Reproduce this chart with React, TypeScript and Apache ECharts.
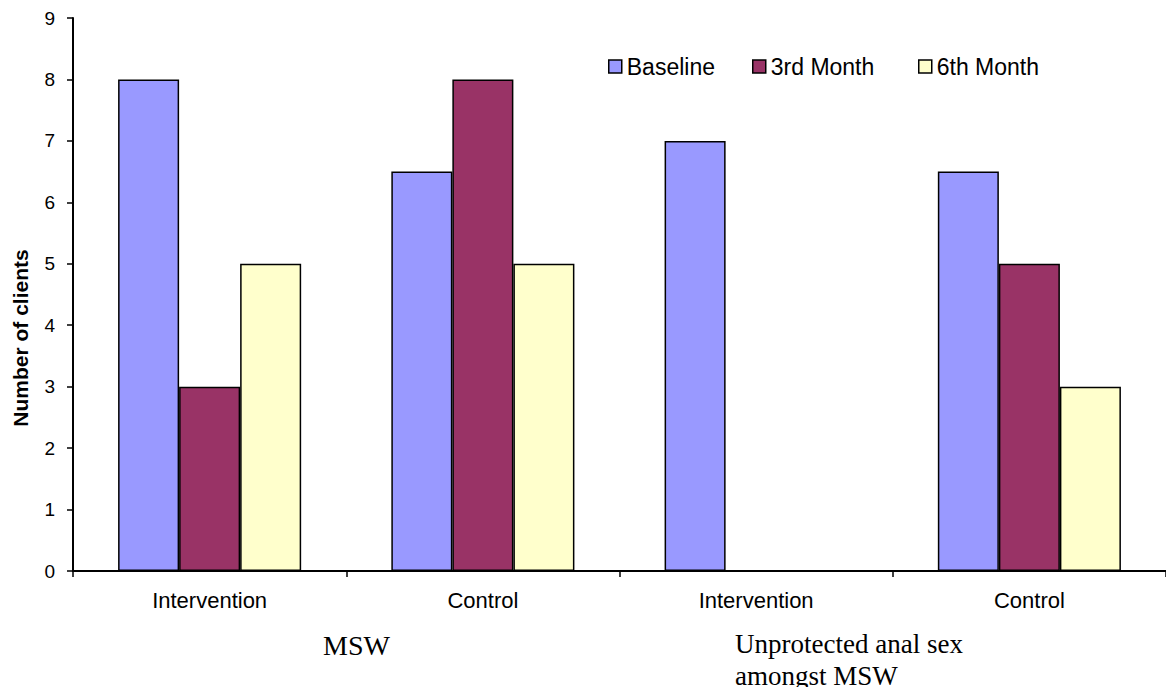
import React, { useEffect, useRef } from "react";
import * as echarts from "echarts";

const categories = ["Intervention", "Control", "Intervention", "Control"];
const seriesNames = ["Baseline", "3rd Month", "6th Month"];
const baseline = [8, 6.5, 7, 6.5];
const month3 = [3, 8, 0, 5];
const month6 = [5, 5, 0, 3];
const colors = ["#9999FF", "#993366", "#FFFFCC"];
const yTicks = [0, 9, 1];
const yAxisTitle = "Number of clients";
const groupLabels = ["MSW", "Unprotected anal sex\namongst MSW"];

export default function App() {
  const ref = useRef<HTMLDivElement>(null);
  useEffect(() => {
    if (!ref.current) return;
    const chart = echarts.init(ref.current, undefined, { renderer: "svg" });
    const values = [baseline, month3, month6];
    const legendLeft = [608, 752, 918];
    chart.setOption({
      animation: false,
      grid: { left: 73, top: 18, width: 1096, bottom: 116, containLabel: false },
      legend: seriesNames.map((n, i) => ({
        data: [n],
        left: legendLeft[i],
        top: 55,
        padding: 0,
        itemWidth: 13,
        itemHeight: 13,
        icon: "rect",
        itemStyle: { borderColor: "#000", borderWidth: 1.5 },
        textStyle: { fontFamily: "Liberation Sans, Arial", fontSize: 23, color: "#000" },
      })),
      xAxis: {
        type: "category",
        data: categories,
        axisLine: { lineStyle: { color: "#000", width: 2 } },
        axisTick: { show: true, length: 6, lineStyle: { color: "#000", width: 1.5 } },
        axisLabel: { fontFamily: "Liberation Sans, Arial", fontSize: 22, color: "#000", margin: 18 },
      },
      yAxis: {
        type: "value",
        min: yTicks[0],
        max: yTicks[1],
        interval: yTicks[2],
        axisLine: { show: true, lineStyle: { color: "#000", width: 2 } },
        axisTick: { show: true, length: 6, lineStyle: { color: "#000", width: 1.5 } },
        splitLine: { show: false },
        axisLabel: { fontFamily: "Liberation Sans, Arial", fontSize: 19, color: "#000", margin: 18 },
      },
      series: seriesNames.map((n, i) => ({
        name: n,
        type: "bar",
        data: values[i],
        barGap: "0%",
        barCategoryGap: "33%",
        itemStyle: { color: colors[i], borderColor: "#000", borderWidth: 1.5 },
      })),
      graphic: [
        {
          type: "text",
          x: 20,
          y: 338,
          rotation: Math.PI / 2,
          style: {
            text: yAxisTitle,
            fontFamily: "Liberation Sans, Arial",
            fontSize: 21,
            fontWeight: "bold",
            fill: "#000",
            align: "center",
            verticalAlign: "middle",
          },
        },
        {
          type: "text",
          left: 323,
          top: 631,
          style: { text: groupLabels[0], fontFamily: "Liberation Serif, Times New Roman", fontSize: 28, fill: "#000" },
        },
        {
          type: "text",
          left: 735,
          top: 628,
          style: {
            text: groupLabels[1],
            fontFamily: "Liberation Serif, Times New Roman",
            fontSize: 27,
            lineHeight: 32,
            fill: "#000",
          },
        },
      ],
    });
    return () => chart.dispose();
  }, []);
  return (
    <div
      ref={ref}
      style={{ position: "fixed", left: 0, top: 0, width: 1166, height: 687, background: "#fff" }}
    />
  );
}
